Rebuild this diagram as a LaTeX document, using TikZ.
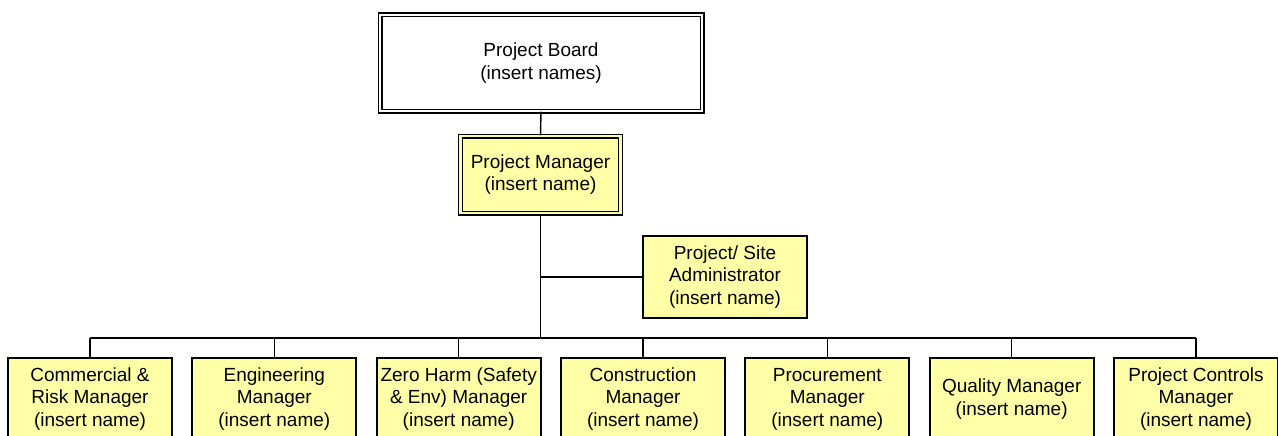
\documentclass[tikz,border=0pt]{standalone}
\usepackage{fontspec}
\setmainfont{Liberation Sans}
\begin{document}
\begin{tikzpicture}[x=1pt,y=-1pt,
  every node/.style={inner sep=0pt, align=center, font=\fontsize{19}{22.5}\selectfont},
  link/.style={draw=black, line width=1.4pt},
  boardbox/.style={draw=black, line width=1.2pt, double=white, double distance=2.6pt,
    fill=white, minimum width=322pt, minimum height=96pt},
  leadbox/.style={draw=black, line width=1.2pt, double=roleyellow, double distance=2.6pt,
    fill=roleyellow, minimum width=160pt, minimum height=77pt},
  rolebox/.style={draw=black, line width=2.2pt, fill=roleyellow,
    minimum width=164pt, minimum height=82pt}]
\definecolor{roleyellow}{HTML}{FFFFA8}
\useasboundingbox (0,0) rectangle (1278,436);
\clip (0,0) rectangle (1278,436);

% top of the hierarchy
\node[boardbox] (board) at (541,63) {Project Board\\(insert names)};
\node[leadbox] (pm) at (540.5,174.5) {Project Manager\\(insert name)};
\node[rolebox] (admin) at (725,277) {Project/ Site\\Administrator\\(insert name)};

% reporting managers
\node[rolebox] (c1) at (90,399)     {Commercial \&\\Risk Manager\\(insert name)};
\node[rolebox] (c2) at (274.3,399)  {Engineering\\Manager\\(insert name)};
\node[rolebox] (c3) at (458.7,399)  {Zero Harm (Safety\\\& Env) Manager\\(insert name)};
\node[rolebox] (c4) at (643,399)    {Construction\\Manager\\(insert name)};
\node[rolebox] (c5) at (827.3,399)  {Procurement\\Manager\\(insert name)};
\node[rolebox] (c6) at (1011.7,399) {Quality Manager\\(insert name)};
\node[rolebox] (c7) at (1196,399)   {Project Controls\\Manager\\(insert name)};

\coordinate (bus) at (541,338);

% connectors
\draw[link] (board.south) -- (pm.north);
\draw[link] (pm.south) -- (pm.south |- bus);
\draw[link] (admin.west) -- (admin.west -| pm.south);
\draw[link] (c1.north |- bus) -- (c7.north |- bus);
\foreach \c in {c1,c2,c3,c4,c5,c6,c7}
  \draw[link] (\c.north) -- (\c.north |- bus);
\end{tikzpicture}
\end{document}
